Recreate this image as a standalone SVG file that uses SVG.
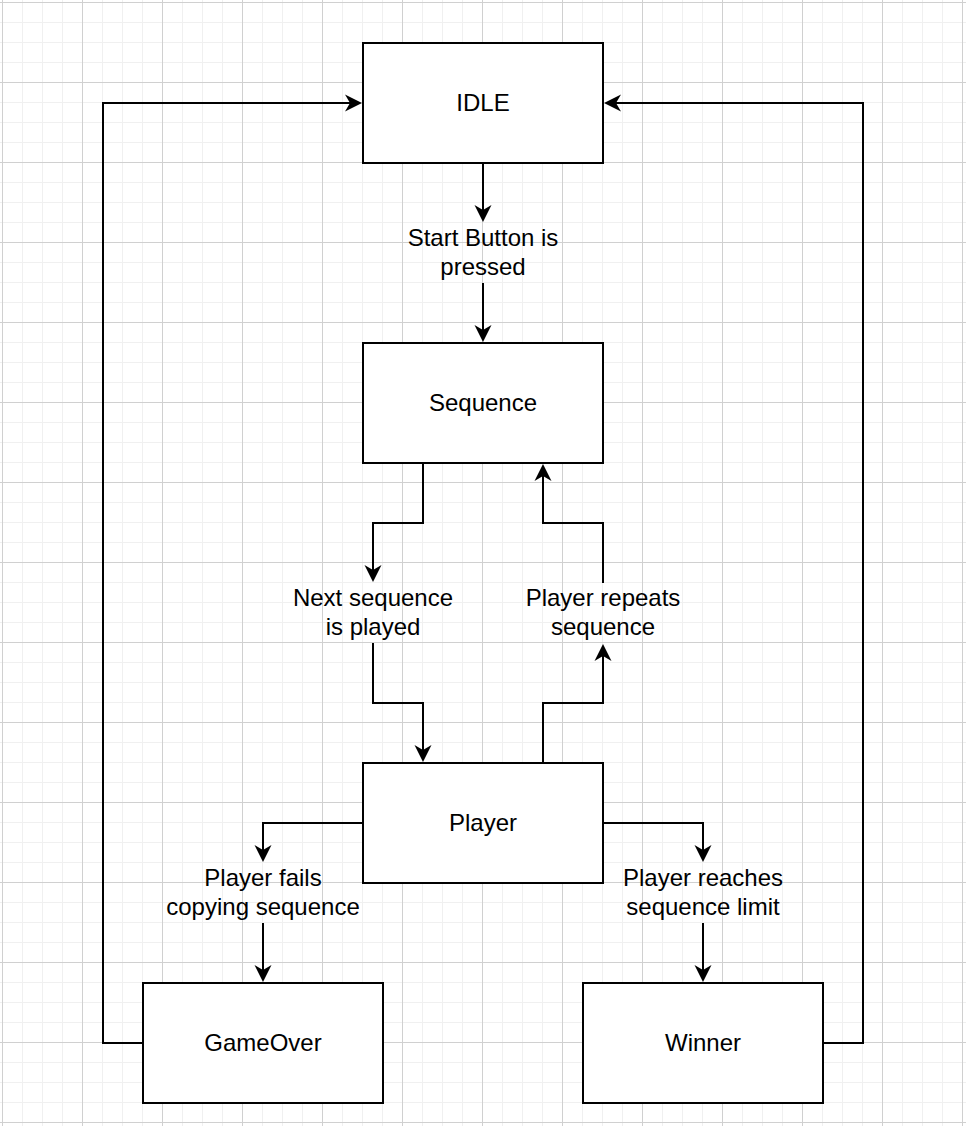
<svg xmlns="http://www.w3.org/2000/svg" width="966" height="1126" viewBox="0 0 966 1126">
<defs>
<pattern id="grid" patternUnits="userSpaceOnUse" x="2" y="2" width="80" height="80">
<path d="M20.5,0V80M40.5,0V80M60.5,0V80M0,20.5H80M0,40.5H80M0,60.5H80" stroke="#f0f0f0" stroke-width="1" fill="none"/>
<path d="M0.5,0V80M0,0.5H80" stroke="#d0d0d0" stroke-width="1" fill="none"/>
</pattern>
<marker id="arr" markerUnits="userSpaceOnUse" markerWidth="20" markerHeight="20" viewBox="0 0 20 20" refX="6" refY="10" orient="auto">
<path d="M18,10 L1,1.5 L6,10 L1,18.5 Z" fill="#000"/>
</marker>
</defs>
<style>
.box{fill:#fff;stroke:#000;stroke-width:2}
.t{font-family:"Liberation Sans",Arial,Helvetica,sans-serif;font-size:24px;fill:#000;text-anchor:middle}
.e{fill:none;stroke:#000;stroke-width:2;marker-end:url(#arr)}
</style>
<rect width="966" height="1126" fill="#fff"/>
<rect width="966" height="1126" fill="url(#grid)"/>
<g id="connectors">
<path class="e" d="M483,163V210"/>
<path class="e" d="M483,283V330"/>
<path class="e" d="M423,463V523H373V570"/>
<path class="e" d="M373,643V703H423V750"/>
<path class="e" d="M543,763V703H603V656"/>
<path class="e" d="M603,583V523H543V476"/>
<path class="e" d="M363,823H263V850"/>
<path class="e" d="M263,923V970"/>
<path class="e" d="M603,823H703V850"/>
<path class="e" d="M703,923V970"/>
<path class="e" d="M143,1043H103V103H350"/>
<path class="e" d="M823,1043H863V103H616"/>
</g>
<g id="idle"><rect class="box" x="363" y="43" width="240" height="120"/><text class="t" x="483" y="110.6">IDLE</text></g>
<g id="sequence"><rect class="box" x="363" y="343" width="240" height="120"/><text class="t" x="483" y="410.6">Sequence</text></g>
<g id="player"><rect class="box" x="363" y="763" width="240" height="120"/><text class="t" x="483" y="830.6">Player</text></g>
<g id="gameover"><rect class="box" x="143" y="983" width="240" height="120"/><text class="t" x="263" y="1050.6">GameOver</text></g>
<g id="winner"><rect class="box" x="583" y="983" width="240" height="120"/><text class="t" x="703" y="1050.6">Winner</text></g>
<g id="label-start"><text class="t" x="483" y="246.4">Start Button is</text><text class="t" x="483" y="275">pressed</text></g>
<g id="label-next"><text class="t" x="373" y="606.4">Next sequence</text><text class="t" x="373" y="635">is played</text></g>
<g id="label-repeats"><text class="t" x="603" y="606.4">Player repeats</text><text class="t" x="603" y="635">sequence</text></g>
<g id="label-fails"><text class="t" x="263" y="886.4">Player fails</text><text class="t" x="263" y="915">copying sequence</text></g>
<g id="label-reaches"><text class="t" x="703" y="886.4">Player reaches</text><text class="t" x="703" y="915">sequence limit</text></g>
</svg>
